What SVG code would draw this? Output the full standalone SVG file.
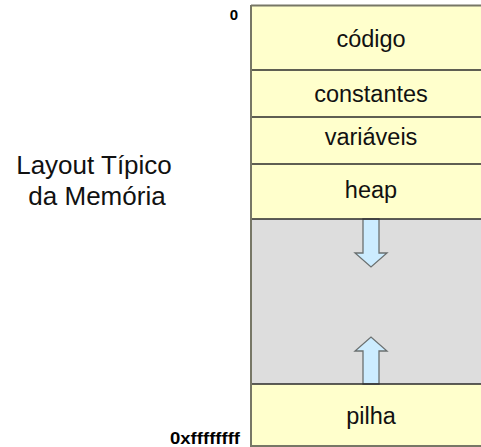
<svg xmlns="http://www.w3.org/2000/svg" width="481" height="447" viewBox="0 0 481 447">
  <style>
    .seg { fill: #FFFFCC; stroke: none; }
    .sep { stroke: #2a2a2a; stroke-width: 1.5; }
    .edge { stroke: #777766; stroke-width: 2; fill: none; }
    .lbl { font-family: "Liberation Sans", Arial, sans-serif; font-size: 23.5px; fill: #111; text-anchor: middle; }
    .addr { font-family: "Liberation Sans", Arial, sans-serif; font-weight: bold; fill: #000; }
    .title { font-family: "Liberation Sans", Arial, sans-serif; font-size: 26px; fill: #111; text-anchor: middle; }
    .arrow { fill: #CCECFF; stroke: #6b7070; stroke-width: 1.3; stroke-linejoin: miter; }
  </style>
  <rect width="481" height="447" fill="#ffffff"/>

  <g id="title">
    <text class="title" x="94" y="174">Layout Típico</text>
    <text class="title" x="97" y="205">da Memória</text>
  </g>

  <g id="free-space">
    <rect x="251" y="219" width="232" height="165" fill="#DDDDDD"/>
  </g>

  <g id="codigo">
    <rect class="seg" x="251" y="6" width="232" height="64"/>
    <text class="lbl" x="371" y="47">código</text>
  </g>
  <g id="constantes">
    <rect class="seg" x="251" y="70" width="232" height="47"/>
    <text class="lbl" x="371" y="102">constantes</text>
  </g>
  <g id="variaveis">
    <rect class="seg" x="251" y="117" width="232" height="47"/>
    <text class="lbl" x="371" y="145">variáveis</text>
  </g>
  <g id="heap">
    <rect class="seg" x="251" y="164" width="232" height="55"/>
    <text class="lbl" x="371" y="198">heap</text>
  </g>
  <g id="pilha">
    <rect class="seg" x="251" y="384" width="232" height="62"/>
    <text class="lbl" x="371" y="424">pilha</text>
  </g>

  <g id="connectors">
    <!-- heap grows downward -->
    <path class="arrow" d="M363,219 L379,219 L379,253 L387,253 L371,267 L355,253 L363,253 Z"/>
    <!-- stack grows upward -->
    <path class="arrow" d="M363,384 L379,384 L379,351 L387,351 L371,337 L355,351 L363,351 Z"/>
  </g>

  <g id="outline">
    <line class="edge" x1="251" y1="5.5" x2="483" y2="5.5"/>
    <line class="sep" x1="251" y1="70" x2="483" y2="70"/>
    <line class="sep" x1="251" y1="117" x2="483" y2="117"/>
    <line class="sep" x1="251" y1="164" x2="483" y2="164"/>
    <line class="sep" x1="251" y1="219" x2="483" y2="219"/>
    <line class="sep" x1="251" y1="384" x2="483" y2="384"/>
    <line class="edge" x1="251" y1="446" x2="483" y2="446" stroke="#c8c8a0"/>
    <line class="edge" x1="251" y1="5" x2="251" y2="447"/>
  </g>

  <g id="addresses">
    <text class="addr" x="238" y="20" font-size="15" text-anchor="end">0</text>
    <text class="addr" x="170" y="444" font-size="17" textLength="70" lengthAdjust="spacingAndGlyphs">0xffffffff</text>
  </g>
</svg>
